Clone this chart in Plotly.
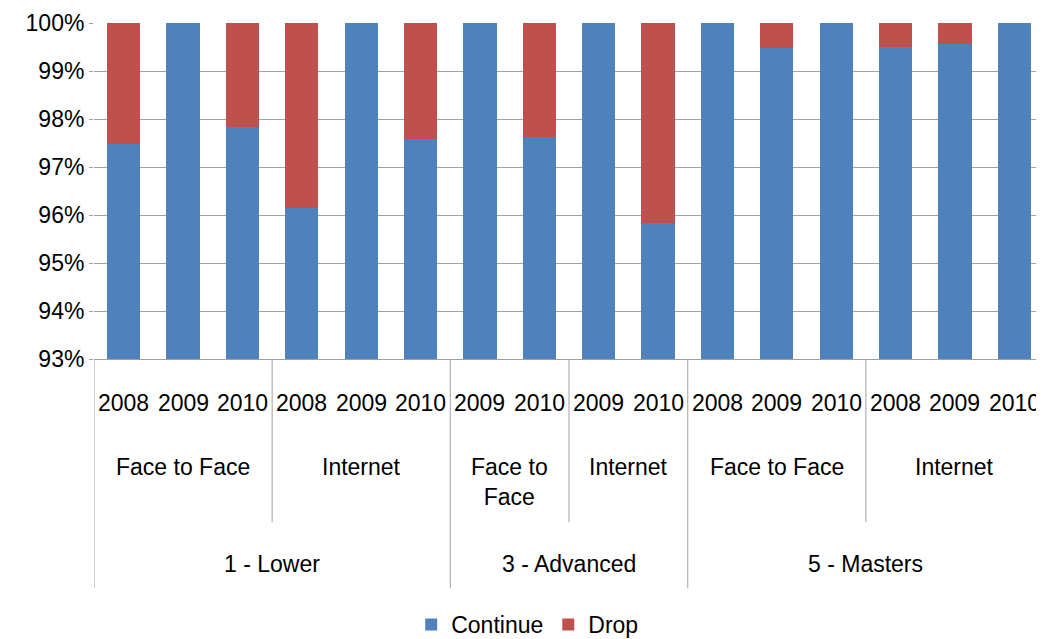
import plotly.graph_objects as go

levels = ["1 - Lower"] * 6 + ["3 - Advanced"] * 4 + ["5 - Masters"] * 6
modes = (["Face to Face"] * 3 + ["Internet"] * 3 + ["Face to Face"] * 2 + ["Internet"] * 2
         + ["Face to Face"] * 3 + ["Internet"] * 3)
years = ["2008", "2009", "2010", "2008", "2009", "2010", "2009", "2010", "2009", "2010",
         "2008", "2009", "2010", "2008", "2009", "2010"]
continue_pct = [97.48, 100.0, 97.84, 96.15, 100.0, 97.58, 100.0, 97.62, 100.0, 95.83,
                100.0, 99.48, 100.0, 99.50, 99.56, 100.0]
drop_pct = [round(100.0 - v, 2) for v in continue_pct]

BLUE = "#4F81BD"
RED = "#C0504D"
GRID = "#a0a0a0"
FONT = "Liberation Sans"
FS = 23
FS_YEAR = 23

x = list(range(len(years)))
cont = [v / 100 for v in continue_pct]
drop = [v / 100 for v in drop_pct]

fig = go.Figure()
fig.add_trace(go.Bar(x=x, y=cont, name="Continue", marker=dict(color=BLUE, line=dict(width=0))))
fig.add_trace(go.Bar(x=x, y=drop, name="Drop", marker=dict(color=RED, line=dict(width=0))))

mode_groups = []
start = 0
for i in range(1, len(modes) + 1):
    if i == len(modes) or modes[i] != modes[start] or levels[i] != levels[start]:
        mode_groups.append((start, i - 1, modes[start]))
        start = i
level_groups = []
start = 0
for i in range(1, len(levels) + 1):
    if i == len(levels) or levels[i] != levels[start]:
        level_groups.append((start, i - 1, levels[start]))
        start = i

annotations = []
shapes = []
for i, yr in enumerate(years):
    annotations.append(dict(x=i, y=-0.130, xref="x", yref="paper", text=yr, showarrow=False,
                            yanchor="middle", font=dict(family=FONT, size=FS_YEAR, color="#000")))
for a, b, lab in mode_groups:
    n = b - a + 1
    text = lab
    yy = -0.320
    if n == 2 and lab == "Face to Face":
        text = "Face to<br>Face"
        yy = -0.366
    annotations.append(dict(x=(a + b) / 2, y=yy, xref="x", yref="paper", text=text, showarrow=False,
                            yanchor="middle", font=dict(family=FONT, size=FS, color="#000")))
for a, b, lab in level_groups:
    annotations.append(dict(x=(a + b) / 2, y=-0.611, xref="x", yref="paper", text=lab, showarrow=False,
                            yanchor="middle", font=dict(family=FONT, size=FS, color="#000")))

level_bounds = {-0.5} | {b + 0.5 for a, b, _ in level_groups}
mode_bounds = {b + 0.5 for a, b, _ in mode_groups} - level_bounds
for xb in sorted(level_bounds):
    shapes.append(dict(type="line", xref="x", yref="paper", x0=xb, x1=xb, y0=0, y1=-0.682,
                       line=dict(color=GRID, width=1)))
for xb in sorted(mode_bounds):
    shapes.append(dict(type="line", xref="x", yref="paper", x0=xb, x1=xb, y0=0, y1=-0.486,
                       line=dict(color=GRID, width=1)))

fig.update_layout(
    barmode="stack",
    bargap=0.44,
    width=1036, height=631,
    margin=dict(l=86, r=0, t=15, b=280, autoexpand=False),
    paper_bgcolor="white", plot_bgcolor="white",
    font=dict(family=FONT, size=FS, color="#000"),
    showlegend=True,
    legend=dict(orientation="h", x=0.456, xanchor="center", y=-0.79, yanchor="middle",
                traceorder="normal",
                font=dict(family=FONT, size=FS, color="#000"), itemwidth=30),
    annotations=annotations,
    shapes=shapes,
    xaxis=dict(range=[-0.5, len(years) - 0.5], showticklabels=False, showgrid=False,
               zeroline=False, showline=True, linecolor=GRID, linewidth=1, fixedrange=True,
               automargin=False),
    yaxis=dict(range=[0.93, 1.0], dtick=0.01, tickformat=".0%", showgrid=True, gridcolor=GRID,
               gridwidth=1, zeroline=False, showline=False, ticks="outside", ticklen=4,
               tickcolor=GRID, automargin=False,
               tickfont=dict(family=FONT, size=FS, color="#000")),
)

fig.write_html("out.html")
